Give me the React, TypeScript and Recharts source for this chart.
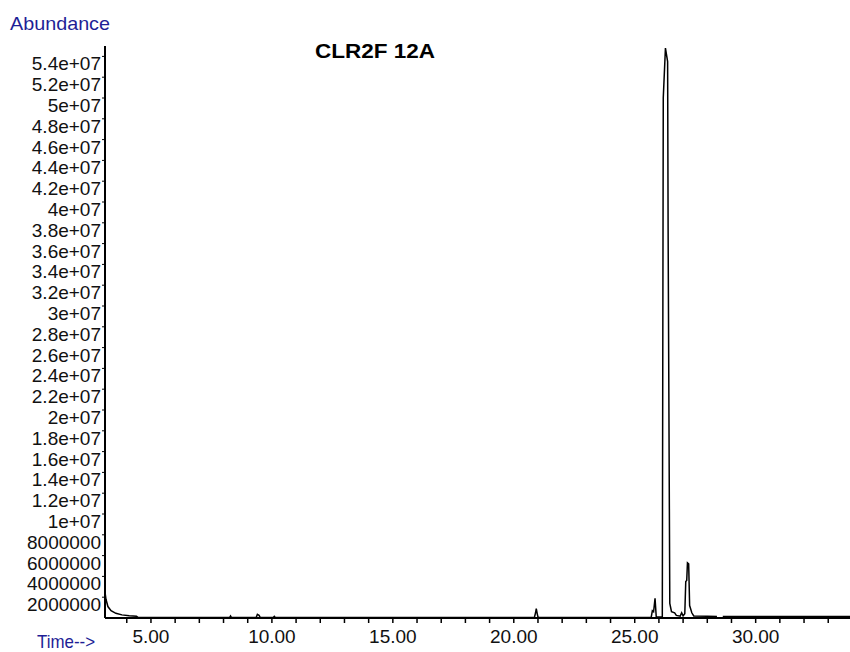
import React from "react";
import { LineChart, Line, XAxis, YAxis } from "recharts";

// Retention time (min) and abundance
const times: number[] = [
  3.1, 3.14, 3.22, 3.35, 3.55, 3.8, 4.1, 4.4, 4.46, 5.5, 7.0, 8.25, 8.29, 8.33,
  9.35, 9.4, 9.47, 9.52, 10.05, 10.1, 10.14, 12.0, 15.0, 18.0, 20.85, 20.9,
  20.93, 20.97, 21.0, 21.05, 23.0, 25.68, 25.73, 25.78, 25.84, 25.89, 26.14,
  26.18, 26.27, 26.36, 26.38, 26.45, 26.52, 26.65, 26.72, 26.88, 26.94, 27.0,
  27.07, 27.11, 27.15, 27.18, 27.23, 27.27, 27.36, 27.44, 28.0, 28.4, 28.45,
  28.64, 30.0, 33.9,
];
const abundance: (number | null)[] = [
  2.5e6, 1.8e6, 1.1e6, 7e5, 4.5e5, 3e5, 2.2e5, 1.8e5, 6e4, 5e4, 4e4, 4e4, 2e5, 4e4,
  4e4, 3.5e5, 2.5e5, 4e4, 4e4, 1.5e5, 4e4, 4e4, 4e4, 4e4, 4e4, 5e5,
  9e5, 4e5, 1e5, 4e4, 5e4, 5e4, 7e5, 6e5, 1.9e6, 1e5, 1e5,
  5.0e7, 5.48e7, 5.35e7, 3.76e7, 1.4e6, 6e5, 5e5, 2.5e5, 1.8e5, 5e5, 2e5,
  4e5, 3.5e6, 3.6e6, 5.3e6, 5.2e6, 1.2e6, 5e5, 2e5, 1.8e5, 1.5e5, null,
  1.5e5, 1.5e5, 1.5e5,
];

const xTicks: number[] = [
  4, 5, 6, 7, 8, 9, 10, 11, 12, 13, 14, 15, 16, 17, 18, 19, 20, 21, 22, 23, 24,
  25, 26, 27, 28, 29, 30, 31, 32, 33,
];
const xLabelTicks: number[] = [5, 10, 15, 20, 25, 30];

const yTicks: number[] = [
  2e6, 4e6, 6e6, 8e6, 1e7, 1.2e7, 1.4e7, 1.6e7, 1.8e7, 2e7, 2.2e7, 2.4e7, 2.6e7,
  2.8e7, 3e7, 3.2e7, 3.4e7, 3.6e7, 3.8e7, 4e7, 4.2e7, 4.4e7, 4.6e7, 4.8e7, 5e7,
  5.2e7, 5.4e7,
];
const yTickLabels: string[] = [
  "2000000", "4000000", "6000000", "8000000", "1e+07", "1.2e+07", "1.4e+07",
  "1.6e+07", "1.8e+07", "2e+07", "2.2e+07", "2.4e+07", "2.6e+07", "2.8e+07",
  "3e+07", "3.2e+07", "3.4e+07", "3.6e+07", "3.8e+07", "4e+07", "4.2e+07",
  "4.4e+07", "4.6e+07", "4.8e+07", "5e+07", "5.2e+07", "5.4e+07",
];

const data = times.map((t, i) => ({ t, v: abundance[i] }));

const FONT = "'Liberation Sans', Arial, sans-serif";

const XTick = (props: any) => {
  const { x, y, payload } = props;
  if (!xLabelTicks.includes(payload.value)) return null;
  return (
    <text x={x} y={y + 18} textAnchor="middle" fontFamily={FONT} fontSize={19} fill="#111">
      {payload.value.toFixed(2)}
    </text>
  );
};

const YTick = (props: any) => {
  const { x, y, payload } = props;
  const idx = yTicks.indexOf(payload.value);
  const label = idx >= 0 ? yTickLabels[idx] : "";
  return (
    <text x={x + 1} y={y + 14} textAnchor="end" fontFamily={FONT} fontSize={19} fill="#111">
      {label}
    </text>
  );
};

export default function App() {
  return (
    <div style={{ position: "absolute", left: 0, top: 0, width: 850, height: 652, background: "#fff" }}>
      <LineChart
        width={850}
        height={652}
        data={data}
        margin={{ top: 46, right: 0, bottom: 0, left: 0 }}
      >
        <XAxis
          dataKey="t"
          type="number"
          domain={[3.1, 33.9]}
          allowDataOverflow
          ticks={xTicks}
          interval={0}
          height={34}
          tickSize={5}
          tick={<XTick />}
          axisLine={{ stroke: "#000", strokeWidth: 2 }}
          tickLine={{ stroke: "#000", strokeWidth: 1.5 }}
        />
        <YAxis
          type="number"
          domain={[0, 5.5e7]}
          allowDataOverflow
          ticks={yTicks}
          interval={0}
          width={105}
          tickSize={3}
          tick={<YTick />}
          axisLine={{ stroke: "#000", strokeWidth: 2 }}
          tickLine={{ stroke: "#000", strokeWidth: 1 }}
        />
        <Line
          type="linear"
          dataKey="v"
          stroke="#000"
          strokeWidth={1.5}
          dot={false}
          connectNulls={false}
          isAnimationActive={false}
        />
      </LineChart>
      <svg
        width={850}
        height={652}
        style={{ position: "absolute", left: 0, top: 0, pointerEvents: "none" }}
      >
        <text x={10} y={30} fontFamily={FONT} fontSize={19} fill="#1e1e96" textLength={100} lengthAdjust="spacingAndGlyphs">
          Abundance
        </text>
        <text x={37} y={648} fontFamily={FONT} fontSize={19} fill="#1e1e96" textLength={58} lengthAdjust="spacingAndGlyphs">
          Time--&gt;
        </text>
        <text x={315} y={58} fontFamily={FONT} fontSize={20} fontWeight="bold" fill="#000" textLength={120} lengthAdjust="spacingAndGlyphs">
          CLR2F 12A
        </text>
      </svg>
    </div>
  );
}
